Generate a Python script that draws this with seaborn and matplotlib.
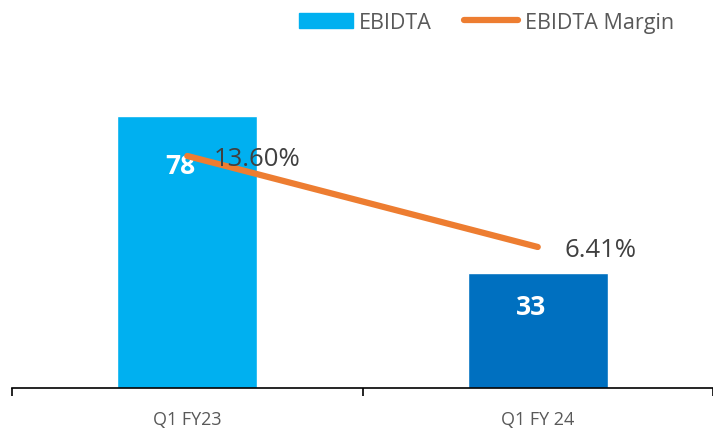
import matplotlib
matplotlib.use("Agg")
import matplotlib.pyplot as plt
import seaborn as sns
import pandas as pd
from matplotlib.patches import Patch
from matplotlib.lines import Line2D

# data
quarters = ["Q1 FY23", "Q1 FY 24"]
ebidta = [78, 33]
margin = [13.60, 6.41]
bar_colors = ["#00B0F0", "#0070C0"]

df = pd.DataFrame({"quarter": quarters, "ebidta": ebidta, "margin": margin})

sns.set_style("white")
plt.rcParams["font.family"] = ["Open Sans", "DejaVu Sans"]

fig = plt.figure(figsize=(7.13, 4.31), dpi=100)
ax = fig.add_axes([12 / 713, 42 / 431, 701 / 713, 349 / 431])

sns.barplot(data=df, x="quarter", y="ebidta", hue="quarter", palette=bar_colors,
            width=0.4, legend=False, ax=ax, saturation=1)
ax.set_xlim(-0.5, -0.5 + 701 / 358)
ax.set_ylim(0, 100)

ax2 = ax.twinx()
ax2.plot(range(len(quarters)), df["margin"], color="#ED7D31", lw=4.5,
         solid_capstyle="round")
ax2.set_ylim(-4.73, 22.84)
ax2.axis("off")

# bar labels
offs = [-36, -24]
for i, v in enumerate(ebidta):
    ax.annotate(str(v), (i - 0.02, v), xytext=(0, offs[i]), textcoords="offset points",
                ha="center", va="center", color="white", fontsize=19, fontweight="bold")
for i, m in enumerate(margin):
    ax2.annotate(f"{m:.2f}%", (i, m), xytext=(19, -2), textcoords="offset points",
                 ha="left", va="center", color="#404040", fontsize=18.5)

for s in ["top", "right", "left"]:
    ax.spines[s].set_visible(False)
ax.spines["bottom"].set_color("#000000")
ax.spines["bottom"].set_linewidth(1.2)
ax.set_yticks([])
ax.set_ylabel("")
ax.set_xlabel("")
ax.set_xticks([-0.5, 0.5, 1.5])
ax.set_xticklabels([])
ax.tick_params(axis="x", which="major", direction="out", length=6, width=1.2, color="black", bottom=True)
ax.set_xticks([0, 1], minor=True)
ax.set_xticklabels(quarters, minor=True)
ax.tick_params(axis="x", which="minor", length=0, pad=16, labelsize=13, labelcolor="#595959")

handles = [Patch(color="#00B0F0", label="EBIDTA"),
           Line2D([0], [0], color="#ED7D31", lw=4.5, solid_capstyle="round", label="EBIDTA Margin")]
fig.legend(handles=handles, loc="upper right", bbox_to_anchor=(0.972, 1.015), ncol=2,
           frameon=False, fontsize=15.5, labelcolor="#595959", handlelength=2.5,
           handleheight=0.7, handletextpad=0.3, columnspacing=1.5)

fig.savefig("out.png", dpi=100)
